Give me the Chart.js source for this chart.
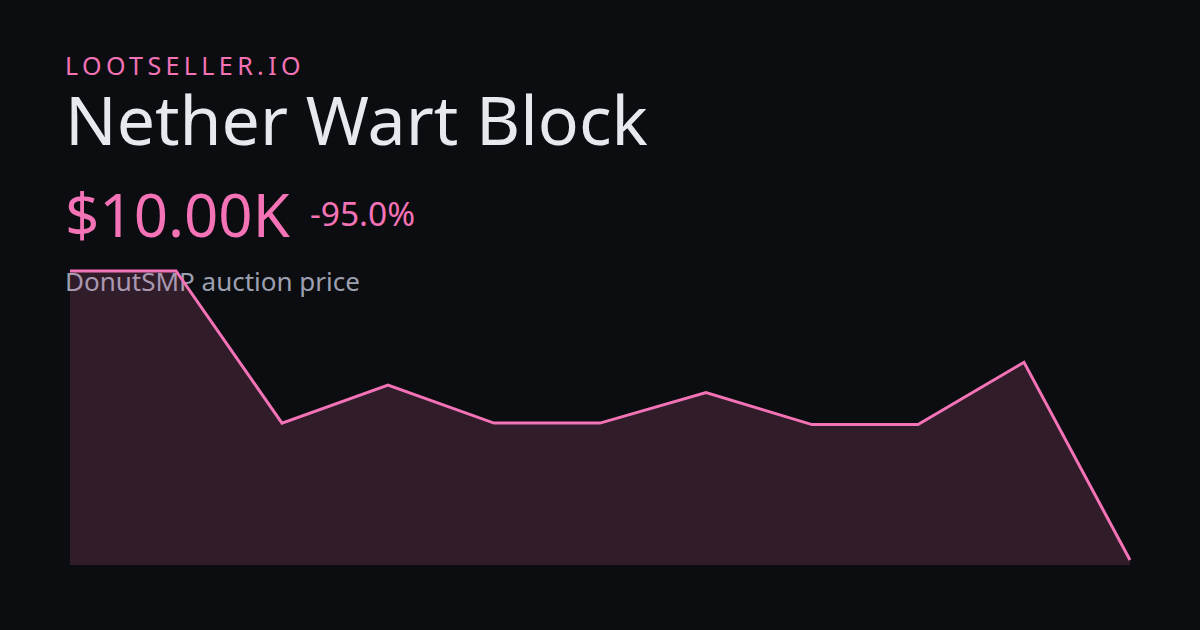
<!DOCTYPE html>
<html>
<head>
<meta charset="utf-8">
<script src="https://cdn.jsdelivr.net/npm/chart.js@4"></script>
<style>
  html, body { margin: 0; padding: 0; background: #0c0d10; }
  #card { position: relative; width: 1200px; height: 630px; overflow: hidden; background: #0c0d10; font-family: "Noto Sans", "Open Sans", sans-serif; }
  .txt { position: absolute; left: 65px; white-space: nowrap; line-height: 1; }
  #brand { top: 53px; font-size: 25px; letter-spacing: 4.4px; color: #f472b6; }
  #title { top: 85px; font-size: 68px; color: #e8e9ee; }
  #price { top: 184px; font-size: 60px; color: #f472b6; }
  #change { left: 310px; top: 197px; font-size: 33.5px; color: #f472b6; }
  #sub { top: 268px; font-size: 26px; color: #9ca0b0; }
  #chartBox { position: absolute; left: 0; top: 0; width: 1200px; height: 630px; }
</style>
</head>
<body>
<div id="card">
  <div class="txt" id="brand">LOOTSELLER.IO</div>
  <div class="txt" id="title">Nether Wart Block</div>
  <div class="txt" id="price">$10.00K</div>
  <div class="txt" id="change">-95.0%</div>
  <div class="txt" id="sub">DonutSMP auction price</div>
  <div id="chartBox"><canvas id="priceChart" width="1200" height="630"></canvas></div>
</div>
<script>
// price history, in thousands of $
let labels = ["", "", "", "", "", "", "", "", "", "", ""];
let prices = [200, 200, 100, 125, 100, 100, 120, 99, 99, 140, 10];

let yMin = 6.7;
let yMax = 200;

let priceChart = new Chart(document.getElementById("priceChart"), {
  type: 'line',
  data: {
    labels: labels,
    datasets: [{
      data: prices,
      borderColor: "#f472b6",
      borderWidth: 3,
      backgroundColor: "rgba(244,114,182,0.16)",
      fill: 'start',
      tension: 0,
      pointRadius: 0,
      clip: false
    }]
  },
  options: {
    responsive: false,
    animation: false,
    layout: { padding: { left: 70, right: 70, top: 271, bottom: 65 } },
    plugins: { legend: { display: false }, tooltip: { enabled: false } },
    scales: {
      x: { display: false, offset: false },
      y: { display: false, min: yMin, max: yMax }
    }
  }
})
</script>
</body>
</html>
